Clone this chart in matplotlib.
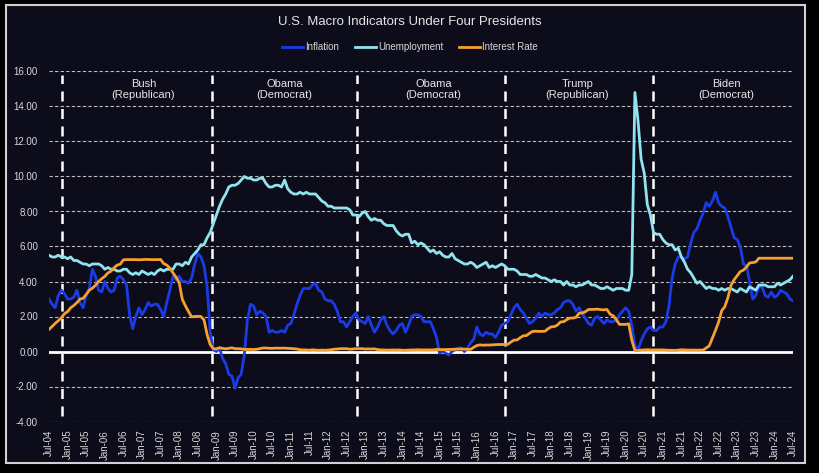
import matplotlib
matplotlib.use("Agg")
import matplotlib.pyplot as plt
from matplotlib.patches import Rectangle
import numpy as np

plt.rcParams['font.family'] = ['Liberation Sans', 'DejaVu Sans']

# monthly, Jul-04 .. Jul-24
inflation = [
    3.0, 2.7, 2.5, 3.2, 3.5, 3.3,
    3.0, 3.0, 3.1, 3.5, 2.8, 2.5, 3.2, 3.6, 4.7, 4.3, 3.5, 3.4,
    4.0, 3.6, 3.4, 3.5, 4.2, 4.3, 4.1, 3.8, 2.1, 1.3, 2.0, 2.5,
    2.1, 2.4, 2.8, 2.6, 2.7, 2.7, 2.4, 2.0, 2.8, 3.5, 4.3, 4.1,
    4.3, 4.0, 4.0, 3.9, 4.2, 5.0, 5.6, 5.4, 4.9, 3.7, 1.1, 0.1,
    0.0, 0.2, -0.4, -0.7, -1.3, -1.4, -2.1, -1.5, -1.3, -0.2, 1.8, 2.7,
    2.6, 2.1, 2.3, 2.2, 2.0, 1.1, 1.2, 1.1, 1.1, 1.2, 1.1, 1.5,
    1.6, 2.1, 2.7, 3.2, 3.6, 3.6, 3.6, 3.8, 3.9, 3.5, 3.4, 3.0,
    2.9, 2.9, 2.7, 2.3, 1.7, 1.7, 1.4, 1.7, 2.0, 2.2, 1.8, 1.7,
    1.6, 2.0, 1.5, 1.1, 1.4, 1.8, 2.0, 1.5, 1.2, 1.0, 1.2, 1.5,
    1.6, 1.1, 1.5, 2.0, 2.1, 2.1, 2.0, 1.7, 1.7, 1.7, 1.3, 0.8,
    -0.1, 0.0, -0.1, -0.2, 0.0, 0.1, 0.2, 0.2, 0.0, 0.2, 0.5, 0.7,
    1.4, 1.0, 0.9, 1.1, 1.0, 1.0, 0.8, 1.1, 1.5, 1.6, 1.7, 2.1,
    2.5, 2.7, 2.4, 2.2, 1.9, 1.6, 1.7, 1.9, 2.2, 2.0, 2.2, 2.1,
    2.1, 2.2, 2.4, 2.5, 2.8, 2.9, 2.9, 2.7, 2.3, 2.5, 2.2, 1.9,
    1.6, 1.5, 1.9, 2.0, 1.8, 1.6, 1.8, 1.7, 1.7, 1.8, 2.1, 2.3,
    2.5, 2.3, 1.5, 0.3, 0.1, 0.6, 1.0, 1.3, 1.4, 1.2, 1.2, 1.4,
    1.4, 1.7, 2.6, 4.2, 5.0, 5.4, 5.4, 5.3, 5.4, 6.2, 6.8, 7.0,
    7.5, 7.9, 8.5, 8.3, 8.6, 9.1, 8.5, 8.3, 8.2, 7.7, 7.1, 6.5,
    6.4, 6.0, 5.0, 4.9, 4.0, 3.0, 3.2, 3.7, 3.7, 3.2, 3.1, 3.4,
    3.1, 3.2, 3.5, 3.4, 3.3, 3.0, 2.9,
]

unemployment = [
    5.5, 5.4, 5.4, 5.5, 5.4, 5.4,
    5.3, 5.4, 5.2, 5.2, 5.1, 5.0, 5.0, 4.9, 5.0, 5.0, 5.0, 4.9,
    4.7, 4.8, 4.7, 4.7, 4.6, 4.6, 4.7, 4.7, 4.5, 4.4, 4.5, 4.4,
    4.6, 4.5, 4.4, 4.5, 4.4, 4.6, 4.7, 4.6, 4.7, 4.7, 4.7, 5.0,
    5.0, 4.9, 5.1, 5.0, 5.4, 5.6, 5.8, 6.1, 6.1, 6.5, 6.8, 7.3,
    7.8, 8.3, 8.7, 9.0, 9.4, 9.5, 9.5, 9.6, 9.8, 10.0, 9.9, 9.9,
    9.8, 9.8, 9.9, 9.9, 9.6, 9.4, 9.4, 9.5, 9.5, 9.4, 9.8, 9.3,
    9.1, 9.0, 9.0, 9.1, 9.0, 9.1, 9.0, 9.0, 9.0, 8.8, 8.6, 8.5,
    8.3, 8.3, 8.2, 8.2, 8.2, 8.2, 8.2, 8.1, 7.8, 7.8, 7.7, 7.9,
    8.0, 7.7, 7.5, 7.6, 7.5, 7.5, 7.3, 7.2, 7.2, 7.2, 6.9, 6.7,
    6.6, 6.7, 6.7, 6.2, 6.3, 6.1, 6.2, 6.1, 5.9, 5.7, 5.8, 5.6,
    5.7, 5.5, 5.4, 5.4, 5.6, 5.3, 5.2, 5.1, 5.0, 5.0, 5.1, 5.0,
    4.8, 4.9, 5.0, 5.1, 4.8, 4.9, 4.8, 4.9, 5.0, 4.9, 4.7, 4.7,
    4.7, 4.6, 4.4, 4.4, 4.4, 4.3, 4.3, 4.4, 4.3, 4.2, 4.2, 4.1,
    4.0, 4.1, 4.0, 4.0, 3.8, 4.0, 3.8, 3.8, 3.7, 3.8, 3.8, 3.9,
    4.0, 3.8, 3.8, 3.7, 3.6, 3.6, 3.7, 3.6, 3.5, 3.6, 3.6, 3.6,
    3.5, 3.5, 4.4, 14.8, 13.2, 11.0, 10.2, 8.4, 7.8, 6.8, 6.7, 6.7,
    6.4, 6.2, 6.1, 6.1, 5.8, 5.9, 5.4, 5.1, 4.7, 4.5, 4.2, 3.9,
    4.0, 3.8, 3.6, 3.7, 3.6, 3.6, 3.5, 3.6, 3.5, 3.6, 3.6, 3.5,
    3.4, 3.6, 3.5, 3.4, 3.7, 3.6, 3.5, 3.8, 3.8, 3.8, 3.7, 3.7,
    3.7, 3.9, 3.8, 3.9, 4.0, 4.1, 4.3,
]

interest_rate = [
    1.26, 1.43, 1.61, 1.76, 1.93, 2.16,
    2.28, 2.50, 2.63, 2.79, 3.00, 3.04, 3.26, 3.50, 3.62, 3.78, 4.00, 4.16,
    4.29, 4.49, 4.59, 4.79, 4.94, 4.99, 5.24, 5.25, 5.25, 5.25, 5.25, 5.24,
    5.25, 5.26, 5.26, 5.25, 5.25, 5.25, 5.26, 5.02, 4.94, 4.76, 4.49, 4.24,
    3.94, 2.98, 2.61, 2.28, 1.98, 2.00, 2.01, 2.00, 1.81, 0.97, 0.39, 0.16,
    0.15, 0.22, 0.18, 0.15, 0.18, 0.21, 0.16, 0.16, 0.15, 0.12, 0.12, 0.12,
    0.11, 0.13, 0.16, 0.20, 0.20, 0.18, 0.18, 0.19, 0.19, 0.19, 0.19, 0.18,
    0.17, 0.16, 0.14, 0.10, 0.09, 0.09, 0.07, 0.10, 0.08, 0.07, 0.08, 0.07,
    0.08, 0.10, 0.13, 0.14, 0.16, 0.16, 0.16, 0.13, 0.14, 0.16, 0.16, 0.16,
    0.14, 0.15, 0.14, 0.15, 0.11, 0.09, 0.09, 0.08, 0.08, 0.09, 0.08, 0.09,
    0.07, 0.07, 0.08, 0.09, 0.09, 0.10, 0.09, 0.09, 0.09, 0.09, 0.09, 0.12,
    0.11, 0.11, 0.11, 0.12, 0.12, 0.13, 0.13, 0.14, 0.14, 0.12, 0.12, 0.24,
    0.34, 0.38, 0.36, 0.37, 0.37, 0.38, 0.39, 0.40, 0.40, 0.40, 0.41, 0.54,
    0.65, 0.66, 0.79, 0.90, 0.91, 1.04, 1.15, 1.16, 1.15, 1.15, 1.16, 1.30,
    1.41, 1.42, 1.51, 1.69, 1.70, 1.82, 1.91, 1.91, 1.95, 2.19, 2.20, 2.27,
    2.40, 2.40, 2.41, 2.42, 2.39, 2.38, 2.40, 2.13, 2.04, 1.83, 1.55, 1.55,
    1.55, 1.58, 0.65, 0.05, 0.05, 0.08, 0.09, 0.10, 0.09, 0.09, 0.09, 0.09,
    0.09, 0.08, 0.07, 0.07, 0.06, 0.08, 0.10, 0.09, 0.08, 0.08, 0.08, 0.08,
    0.08, 0.08, 0.20, 0.33, 0.77, 1.21, 1.68, 2.33, 2.56, 3.08, 3.78, 4.10,
    4.33, 4.57, 4.65, 4.83, 5.06, 5.08, 5.12, 5.33, 5.33, 5.33, 5.33, 5.33,
    5.33, 5.33, 5.33, 5.33, 5.33, 5.33, 5.33,
]

tick_labels = [
    'Jul-04', 'Jan-05', 'Jul-05', 'Jan-06', 'Jul-06', 'Jan-07', 'Jul-07',
    'Jan-08', 'Jul-08', 'Jan-09', 'Jul-09', 'Jan-10', 'Jul-10', 'Jan-11',
    'Jul-11', 'Jan-12', 'Jul-12', 'Jan-13', 'Jul-13', 'Jan-14', 'Jul-14',
    'Jan-15', 'Jul-15', 'Jan-16', 'Jul-16', 'Jan-17', 'Jul-17', 'Jan-18',
    'Jul-18', 'Jan-19', 'Jul-19', 'Jan-20', 'Jul-20', 'Jan-21', 'Jul-21',
    'Jan-22', 'Jul-22', 'Jan-23', 'Jul-23', 'Jan-24', 'Jul-24',
]

# term boundaries (month index from Jul-04) and labels
term_lines = [4.3, 52.5, 99.3, 147.0, 195.0]
presidents = ['Bush\n(Republican)', 'Obama\n(Democrat)', 'Obama\n(Democrat)',
              'Trump\n(Republican)', 'Biden\n(Democrat)']
president_x = [30.5, 76.0, 124.0, 170.5, 218.5]

bg = '#0c0c1a'
txt = '#d9d9d9'

fig = plt.figure(figsize=(8.2, 4.73), dpi=100, facecolor='black')
frame = Rectangle((6 / 820, 1 - 463 / 473), 799 / 820, 458 / 473,
                  transform=fig.transFigure, facecolor=bg,
                  edgecolor='#d0d0d0', linewidth=1.5, zorder=-10)
fig.patches.append(frame)

ax = fig.add_axes([49 / 820, 1 - 421.5 / 473, 744 / 820, 350 / 473])
ax.set_facecolor('none')
ax.set_zorder(1)

months = np.arange(len(inflation))
ax.set_xlim(0, 240)
ax.set_ylim(-4, 16)

for y in range(-4, 17, 2):
    if y != 0:
        ax.axhline(y, color='#bfbfbf', lw=0.8, ls=(0, (3, 2)), zorder=1)
ax.axhline(0, color='white', lw=2, zorder=2)

for xl in term_lines:
    ax.plot([xl, xl], [-3.7, 15.8], color='white', lw=1.8,
            ls=(0, (4, 3)), zorder=2)

ax.plot(months, inflation, color='#1a3be6', lw=2, label='Inflation', zorder=3)
ax.plot(months, unemployment, color='#8fe4f0', lw=2, label='Unemployment', zorder=4)
ax.plot(months, interest_rate, color='#f5a030', lw=2, label='Interest Rate', zorder=5)

for name, px in zip(presidents, president_x):
    ax.text(px, 14.95, name, color='#e6e6e6', fontsize=8, ha='center',
            va='center', linespacing=1.15)

ax.set_xticks(np.arange(0, 241, 6))
ax.set_xticklabels(tick_labels, rotation=90, fontsize=7, color=txt)
ax.set_yticks(np.arange(-4, 17, 2))
ax.set_yticklabels(['%.2f' % v for v in np.arange(-4, 17, 2)], fontsize=7, color=txt)
ax.tick_params(axis='both', length=0, pad=8)
ax.tick_params(axis='x', pad=6)
for s in ax.spines.values():
    s.set_visible(False)

fig.text(0.5, 1 - 22 / 473, 'U.S. Macro Indicators Under Four Presidents',
         color='#e6e6e6', fontsize=9.5, ha='center', va='center')
fig.legend(loc='center', bbox_to_anchor=(0.5, 1 - 47 / 473), ncol=3,
           frameon=False, fontsize=7, labelcolor=txt, handlelength=2.2,
           handletextpad=0.2, columnspacing=1.6)

fig.savefig('out.png', dpi=100, facecolor='black')
